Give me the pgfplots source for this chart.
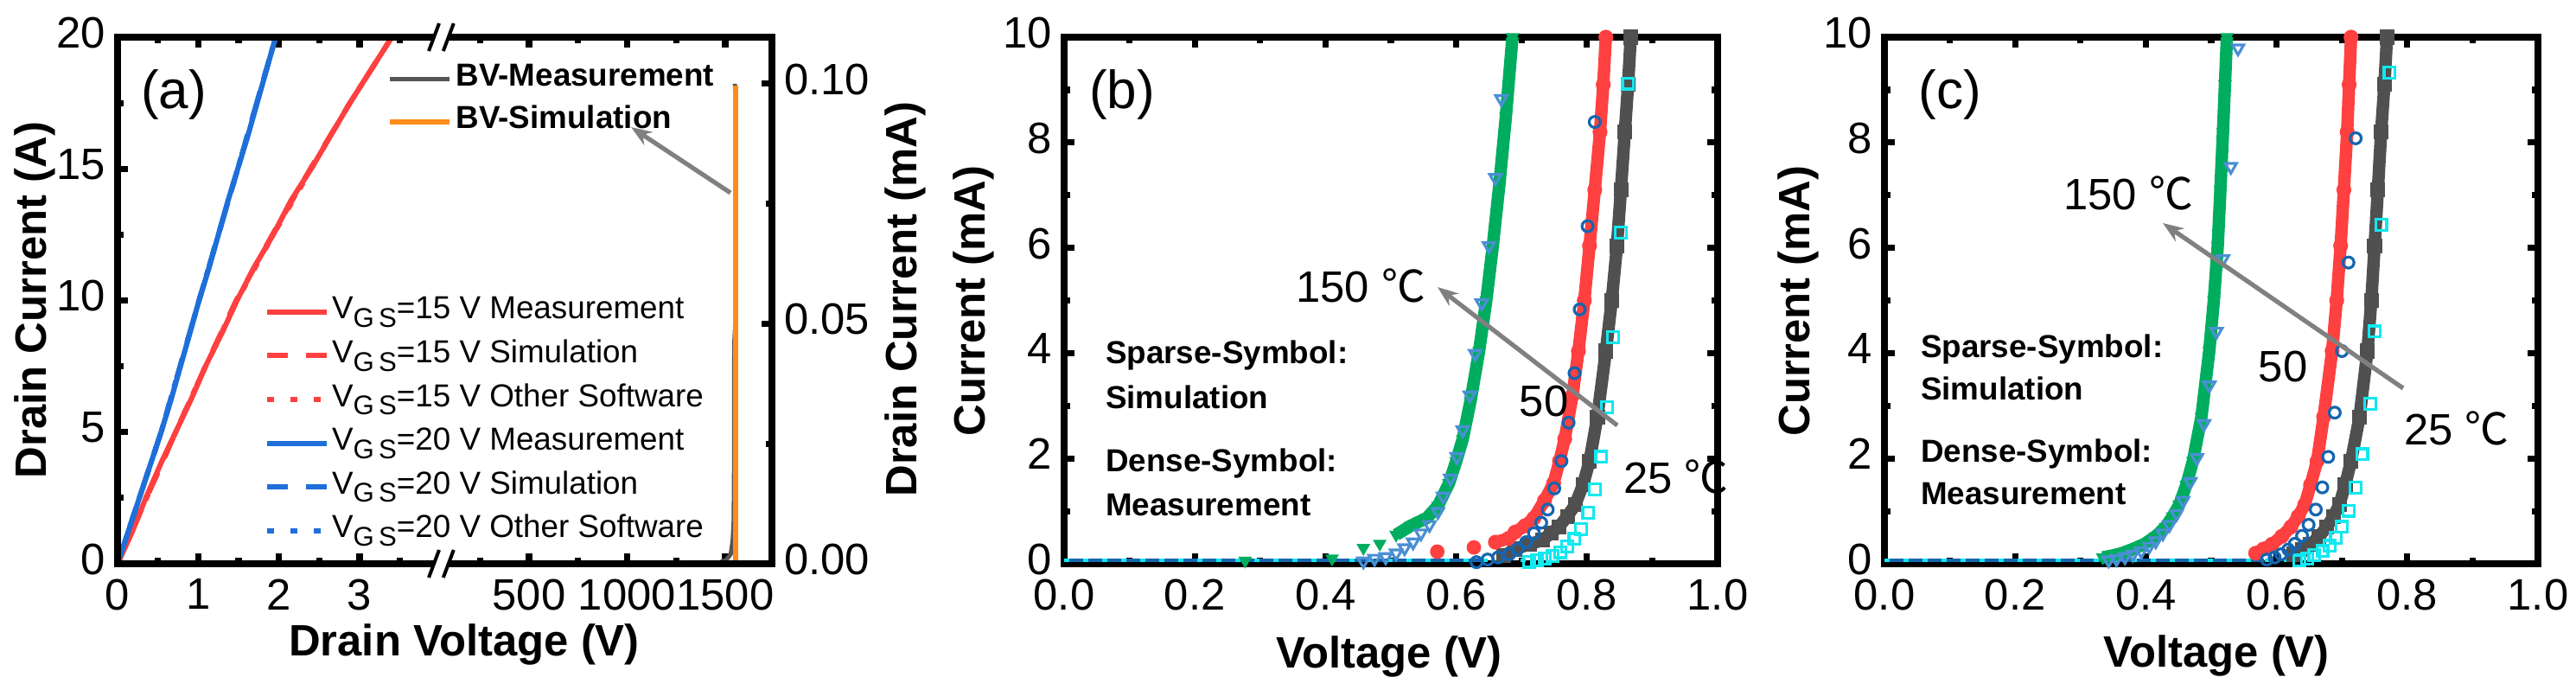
\documentclass[border=0pt]{standalone}
\usepackage{fontspec}
\setmainfont{Liberation Sans}
\newfontfamily\cjk{Noto Sans CJK SC}
\usepackage{pgfplots}
\pgfplotsset{compat=1.18}
\usetikzlibrary{arrows.meta}

\definecolor{cRed}{HTML}{FF4040}
\definecolor{cBlue}{HTML}{1E6FD9}
\definecolor{cBVgray}{HTML}{555555}
\definecolor{cOrange}{HTML}{FF8C1A}
\definecolor{cGreen}{HTML}{00AD5F}
\definecolor{cDark}{HTML}{505050}
\definecolor{cCyan}{HTML}{11E8F0}
\definecolor{cSimBlue}{HTML}{1565B0}
\definecolor{cSimLight}{HTML}{4A8FD4}
\definecolor{cArrow}{HTML}{808080}

\newcommand{\tickfont}{\fontsize{12.7}{14}\selectfont}
\newcommand{\labfont}{\fontsize{12.7}{14}\selectfont\bfseries}
\newcommand{\legfont}{\fontsize{9.2}{10}\selectfont}
\newcommand{\vgs}{V\raisebox{-0.5ex}{\fontsize{7.8}{8}\selectfont G\,S}}
\newcommand{\degc}{{\cjk ℃}}

\tikzset{axlab/.style={font=\labfont, inner sep=0pt}}

\pgfplotsset{
  panel/.style={
    scale only axis, height=152.25pt,
    tick align=inside,
    major tick length=3pt, minor tick length=1.75pt,
    tick style={black, line width=1.8pt},
    tick label style={font=\tickfont},
    xticklabel style={inner ysep=0pt, yshift=-4.2pt},
    yticklabel style={inner ysep=0pt, yshift=1.25pt},
    /pgf/number format/assume math mode=true,
  },
  meas/.style={line width=3.6pt, mark size=2pt, mark options={solid, line width=0.3pt}},
  measdown/.style={line width=3.6pt, mark size=2pt, mark options={solid, line width=0.3pt, rotate=180}},
  sim/.style={only marks, mark size=1.6pt, mark options={solid, line width=0.8pt, fill=white}},
  simdown/.style={only marks, mark size=1.9pt, mark options={solid, line width=0.8pt, fill=white, rotate=180}},
}

\begin{document}
\begin{tikzpicture}

% ================= (a) left part: on-state =================
\begin{axis}[panel, at={(34pt,36.25pt)}, anchor=south west, width=94.25pt,
  xmin=0, xmax=4.04, ymin=0, ymax=20,
  xtick={0,1,2,3}, minor xtick={0.5,1.5,2.5,3.5},
  ytick={0,5,10,15,20}, minor ytick={2.5,7.5,12.5,17.5},
  ytick pos=left, axis line style={draw=none},
  legend cell align=left,
  legend style={draw=none, fill=none, inner sep=0pt, at={(0.4495,0.509)}, anchor=north west,
    font=\legfont, row sep=3.65pt,
    nodes={inner xsep=0.9pt, inner ysep=0pt, text height=6.5pt, text depth=2.5pt}},
]
\addplot[cRed, line width=1.5pt] coordinates {
  (0,0) (0.18,1.2) (0.35,2.5) (0.55,3.9) (0.72,5) (0.92,6.3) (1.09,7.5) (1.30,8.8)
  (1.48,10) (1.70,11.3) (1.93,12.5) (2.15,13.8) (2.40,15) (2.63,16.2) (2.88,17.5)
  (3.15,18.8) (3.40,20) (3.46,20.3)};
\addplot[cRed, line width=1.5pt, dash pattern=on 6pt off 5.25pt] coordinates {
  (0,0) (0.36,2.5) (0.72,5) (1.09,7.5) (1.47,10) (1.92,12.5) (2.39,15) (2.88,17.5) (3.40,20) (3.46,20.3)};
\addplot[cRed, line width=1.5pt, dash pattern=on 2pt off 4.7pt] coordinates {
  (0,0) (0.36,2.5) (0.72,5) (1.09,7.5) (1.48,10) (1.93,12.5) (2.40,15) (2.88,17.5) (3.40,20) (3.46,20.3)};
\addplot[cBlue, line width=1.5pt] coordinates {
  (0,0) (0.13,1.2) (0.27,2.5) (0.41,3.8) (0.54,5) (0.66,6.2) (0.78,7.5) (0.90,8.8)
  (1.01,10) (1.13,11.2) (1.25,12.5) (1.37,13.8) (1.49,15) (1.61,16.2) (1.73,17.5)
  (1.85,18.8) (1.96,20) (2.00,20.4)};
\addplot[cBlue, line width=1.5pt, dash pattern=on 6pt off 5.25pt] coordinates {
  (0,0) (0.27,2.5) (0.54,5) (1.01,10) (1.49,15) (1.96,20) (2.00,20.4)};
\addplot[cBlue, line width=1.5pt, dash pattern=on 2pt off 4.7pt] coordinates {
  (0,0) (0.27,2.5) (0.54,5) (1.01,10) (1.49,15) (1.96,20) (2.00,20.4)};
\legend{\vgs=15 V Measurement, \vgs=15 V Simulation, \vgs=15 V Other Software,
        \vgs=20 V Measurement, \vgs=20 V Simulation, \vgs=20 V Other Software}
\end{axis}

% ================= (a) right part: breakdown =================
\begin{axis}[panel, at={(128.25pt,36.25pt)}, anchor=south west, width=95pt,
  xmin=64, xmax=1738, ymin=0, ymax=0.1097,
  xtick={500,1000,1500}, minor xtick={250,750,1250},
  ytick={0,0.05,0.1}, minor ytick={0.025,0.075},
  ytick pos=right, yticklabel pos=right, axis line style={draw=none},
  xticklabel style={/pgf/number format/1000 sep={}},
  yticklabel style={/pgf/number format/.cd, fixed, fixed zerofill, precision=2},
  legend cell align=left,
  legend style={draw=none, fill=none, inner sep=0pt, at={(-0.1725,0.951)}, anchor=north west,
    font=\legfont\bfseries, row sep=3.25pt,
    nodes={inner xsep=1.25pt, inner ysep=0pt, text height=6.5pt, text depth=2.5pt}},
]
\addplot[cBVgray, line width=1.2pt] coordinates {
  (1420,0) (1470,0.0003) (1505,0.0008) (1528,0.002) (1538,0.005) (1543,0.009)
  (1545,0.02) (1546,0.046) (1551,0.05) (1551,0.098) (1549,0.1)};
\addplot[cOrange, line width=1.5pt] coordinates {(1553,0) (1553,0.0996)};
\legend{BV-Measurement, BV-Simulation}
\end{axis}

% frame of (a) with the axis break
\draw[line width=2pt] (34pt,36.25pt) rectangle (223.25pt,188.5pt);
\foreach \yb in {36.25pt,188.5pt} {
  \fill[white] (125.2pt,\yb-1.3pt) -- (129.2pt,\yb-1.3pt) -- (130.2pt,\yb+1.3pt) -- (126.2pt,\yb+1.3pt) -- cycle;
  \draw[line width=1pt] (124pt,\yb-4pt) -- (127pt,\yb+4pt);
  \draw[line width=1pt] (128.2pt,\yb-4pt) -- (131.2pt,\yb+4pt);
}
\draw[cArrow, line width=1.3pt, -{Stealth[length=6pt, width=4.5pt]}] (211.25pt,143.5pt) -- (182.5pt,162.5pt);
\node[font=\fontsize{15.5}{17}\selectfont] at (50.25pt,172pt) {(a)};
\node[axlab, rotate=90] at (10pt,112.5pt) {Drain Current (A)};
\node[axlab, rotate=90] at (261.75pt,112.75pt) {Drain Current (mA)};
\node[axlab] at (134.25pt,13pt) {Drain Voltage (V)};

% ================= (b) =================
\begin{axis}[panel, at={(307.75pt,36.25pt)}, anchor=south west, width=189pt,
  xmin=0, xmax=1, ymin=0, ymax=10,
  xtick={0,0.2,0.4,0.6,0.8,1.0}, minor xtick={0.1,0.3,0.5,0.7,0.9},
  ytick={0,2,4,6,8,10}, minor ytick={1,3,5,7,9},
  axis line style={line width=2pt},
  xticklabel style={/pgf/number format/.cd, fixed, fixed zerofill, precision=1},
]
% simulation at zero current
\addplot[cSimBlue, line width=1pt] coordinates {(0,0.07) (0.64,0.07)};
\addplot[cCyan, line width=1pt, dash pattern=on 1.5pt off 4pt] coordinates {(0,0.07) (0.72,0.07)};
% measurement, 25 C
\addplot[cDark, meas, mark=square*] coordinates {
  (0.673,0.15) (0.690,0.28) (0.712,0.37) (0.732,0.45) (0.745,0.58) (0.757,0.70) (0.770,0.90)
  (0.782,1.12) (0.794,1.50) (0.804,1.95) (0.816,2.79) (0.829,4.04) (0.838,5.0) (0.846,6.04)
  (0.852,7.1) (0.858,8.2) (0.863,9.1) (0.867,10) (0.870,10.5)};
% measurement, 50 C
\addplot[cRed, only marks, mark=*, mark size=1.9pt] coordinates {(0.571,0.23) (0.627,0.31)};
\addplot[cRed, meas, mark=*] coordinates {
  (0.660,0.41) (0.680,0.48) (0.690,0.60) (0.705,0.72) (0.719,0.87) (0.735,1.20) (0.749,1.53)
  (0.758,1.95) (0.766,2.37) (0.778,3.20) (0.787,4.04) (0.796,5.0) (0.804,6.04) (0.812,7.1)
  (0.820,8.2) (0.825,9.1) (0.829,10) (0.832,10.5)};
% measurement, 150 C
\addplot[cGreen, only marks, mark=triangle*, mark size=2pt, mark options={solid, line width=0.3pt, rotate=180}] coordinates {
  (0.277,0.06) (0.41,0.10) (0.458,0.30) (0.483,0.38)};
\addplot[cGreen, measdown, mark=triangle*] coordinates {
  (0.508,0.55) (0.530,0.72) (0.555,0.87) (0.572,1.10) (0.589,1.53) (0.600,1.95) (0.610,2.37)
  (0.622,3.10) (0.635,4.04) (0.646,5.0) (0.656,6.04) (0.666,7.2) (0.676,8.5) (0.686,10) (0.690,10.5)};
% simulation, 25 C
\addplot[cCyan, sim, mark=square] coordinates {
  (0.711,0.04) (0.723,0.07) (0.736,0.10) (0.747,0.15) (0.759,0.22) (0.770,0.33) (0.781,0.47)
  (0.791,0.66) (0.802,0.97) (0.812,1.41) (0.822,2.03) (0.831,2.97) (0.840,4.30) (0.852,6.29) (0.863,9.12)};
% simulation, 50 C
\addplot[cSimBlue, sim, mark=o] coordinates {
  (0.631,0.03) (0.648,0.08) (0.664,0.12) (0.681,0.18) (0.694,0.28) (0.707,0.41) (0.719,0.58)
  (0.730,0.78) (0.740,1.03) (0.750,1.43) (0.761,1.95) (0.772,2.68) (0.781,3.62) (0.789,4.83)
  (0.801,6.41) (0.812,8.39)};
% simulation, 150 C
\addplot[cSimLight, simdown, mark=triangle] coordinates {
  (0.458,0.05) (0.475,0.10) (0.492,0.13) (0.508,0.20) (0.521,0.30) (0.534,0.41) (0.546,0.58)
  (0.559,0.74) (0.572,0.99) (0.580,1.28) (0.591,1.62) (0.601,2.03) (0.610,2.54) (0.621,3.20)
  (0.629,3.99) (0.639,4.95) (0.650,6.04) (0.660,7.33) (0.669,8.83)};
\end{axis}

\draw[cArrow, line width=1.3pt, -{Stealth[length=6pt, width=4.5pt]}] (467.75pt,76.25pt) -- (415.75pt,116.25pt);
\node[font=\fontsize{15.5}{17}\selectfont] at (324.5pt,172pt) {(b)};
\node[font=\tickfont, anchor=east] at (415.75pt,116.75pt) {150 \degc};
\node[font=\tickfont] at (446.5pt,83.25pt) {50};
\node[font=\tickfont, anchor=west] at (466pt,61.5pt) {25 \degc};
\node[font=\legfont\bfseries, anchor=west] at (316.25pt,96.5pt) {Sparse-Symbol:};
\node[font=\legfont\bfseries, anchor=west] at (316.25pt,84.5pt) {Simulation};
\node[font=\legfont\bfseries, anchor=west] at (316.25pt,65.25pt) {Dense-Symbol:};
\node[font=\legfont\bfseries, anchor=west] at (316.25pt,53.25pt) {Measurement};
\node[axlab, rotate=90] at (281.5pt,112.25pt) {Current (mA)};
\node[axlab] at (401.75pt,9.5pt) {Voltage (V)};

% ================= (c) =================
\begin{axis}[panel, at={(545pt,36.25pt)}, anchor=south west, width=189pt,
  xmin=0, xmax=1, ymin=0, ymax=10,
  xtick={0,0.2,0.4,0.6,0.8,1.0}, minor xtick={0.1,0.3,0.5,0.7,0.9},
  ytick={0,2,4,6,8,10}, minor ytick={1,3,5,7,9},
  axis line style={line width=2pt},
  xticklabel style={/pgf/number format/.cd, fixed, fixed zerofill, precision=1},
]
\addplot[cSimBlue, line width=1pt] coordinates {(0,0.07) (0.58,0.07)};
\addplot[cCyan, line width=1pt, dash pattern=on 1.5pt off 4pt] coordinates {(0,0.07) (0.63,0.07)};
% measurement, 25 C
\addplot[cDark, meas, mark=square*] coordinates {
  (0.627,0.18) (0.640,0.27) (0.652,0.37) (0.665,0.52) (0.677,0.70) (0.687,0.90) (0.696,1.12)
  (0.705,1.50) (0.714,1.95) (0.727,2.79) (0.739,4.04) (0.745,5.0) (0.750,6.04) (0.755,7.1)
  (0.760,8.2) (0.765,9.1) (0.769,10) (0.771,10.5)};
% measurement, 50 C
\addplot[cRed, meas, mark=*] coordinates {
  (0.568,0.20) (0.580,0.28) (0.593,0.37) (0.608,0.52) (0.622,0.70) (0.633,0.90) (0.643,1.12)
  (0.652,1.50) (0.662,1.95) (0.672,2.79) (0.685,4.04) (0.692,5.0) (0.698,6.04) (0.703,7.1)
  (0.708,8.2) (0.711,9.1) (0.714,10) (0.716,10.5)};
% measurement, 150 C
\addplot[cGreen, measdown, mark=triangle*] coordinates {
  (0.334,0.12) (0.350,0.16) (0.363,0.20) (0.380,0.28) (0.397,0.37) (0.415,0.52) (0.430,0.70)
  (0.441,0.90) (0.451,1.12) (0.462,1.50) (0.472,1.95) (0.485,2.79) (0.497,4.04) (0.504,5.0)
  (0.510,6.04) (0.514,7.1) (0.518,8.2) (0.521,9.1) (0.524,10) (0.526,10.5)};
% simulation, 25 C
\addplot[cCyan, sim, mark=square] coordinates {
  (0.635,0.06) (0.647,0.10) (0.658,0.16) (0.670,0.24) (0.681,0.34) (0.691,0.49) (0.700,0.70)
  (0.710,1.01) (0.721,1.45) (0.731,2.08) (0.743,3.04) (0.750,4.41) (0.760,6.44) (0.773,9.33)};
% simulation, 50 C
\addplot[cSimBlue, sim, mark=o] coordinates {
  (0.585,0.08) (0.597,0.12) (0.607,0.18) (0.618,0.27) (0.628,0.38) (0.639,0.53) (0.649,0.74)
  (0.660,1.03) (0.670,1.45) (0.679,2.03) (0.689,2.87) (0.700,4.04) (0.710,5.72) (0.721,8.08)};
% simulation, 150 C
\addplot[cSimLight, simdown, mark=triangle] coordinates {
  (0.343,0.07) (0.355,0.09) (0.368,0.13) (0.380,0.18) (0.393,0.24) (0.405,0.33) (0.415,0.43)
  (0.426,0.58) (0.436,0.74) (0.447,0.95) (0.457,1.20) (0.468,1.56) (0.478,2.01) (0.489,2.66)
  (0.497,3.39) (0.508,4.41) (0.518,5.79) (0.530,7.54) (0.541,9.79)};
\end{axis}

\draw[cArrow, line width=1.3pt, -{Stealth[length=6pt, width=4.5pt]}] (695pt,87pt) -- (625.5pt,134.75pt);
\node[font=\fontsize{15.5}{17}\selectfont] at (564pt,172pt) {(c)};
\node[font=\tickfont] at (615.5pt,143.5pt) {150 \degc};
\node[font=\tickfont] at (660.25pt,93.25pt) {50};
\node[font=\tickfont, anchor=west] at (691.75pt,75.5pt) {25 \degc};
\node[font=\legfont\bfseries, anchor=west] at (552pt,98.25pt) {Sparse-Symbol:};
\node[font=\legfont\bfseries, anchor=west] at (552pt,87pt) {Simulation};
\node[font=\legfont\bfseries, anchor=west] at (552pt,68pt) {Dense-Symbol:};
\node[font=\legfont\bfseries, anchor=west] at (552pt,56.5pt) {Measurement};
\node[axlab, rotate=90] at (520pt,112.25pt) {Current (mA)};
\node[axlab] at (641pt,9.75pt) {Voltage (V)};

\pgfresetboundingbox
\path[use as bounding box] (0pt,0pt) rectangle (745pt,199.25pt);
\end{tikzpicture}
\end{document}
